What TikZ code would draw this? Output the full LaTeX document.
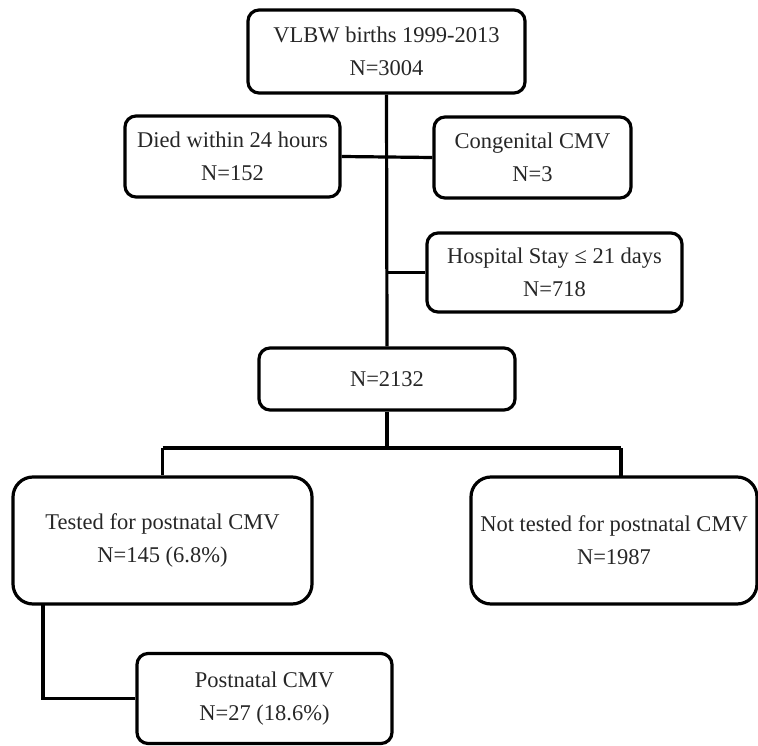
\documentclass[tikz,border=0pt]{standalone}
\usepackage{fontspec}
\setmainfont{Liberation Serif}
\begin{document}
\begin{tikzpicture}[x=1pt,y=-1pt,
  box/.style={draw=black,line width=3.2pt,rounded corners=11pt,align=center,
    inner sep=0pt,text=black!85,font=\fontsize{22.5}{33}\selectfont},
  bigbox/.style={box,rounded corners=20pt},
  link/.style={draw=black,line width=3.2pt}]
\useasboundingbox (0,0) rectangle (758,746);
\node[box,minimum width=277pt,minimum height=83pt] (vlbw) at (386.5,51.5) {VLBW births 1999-2013\\N=3004};
\node[box,minimum width=215pt,minimum height=81pt] (died) at (232.5,156.5) {Died within 24 hours\\N=152};
\node[box,minimum width=197pt,minimum height=81pt] (cong) at (532.5,157.5) {Congenital CMV\\N=3};
\node[box,minimum width=255pt,minimum height=79pt] (hosp) at (554.5,272.5) {Hospital Stay ≤ 21 days\\N=718};
\node[box,minimum width=256pt,minimum height=62pt] (n2132) at (387,379) {N=2132};
\node[bigbox,minimum width=299pt,minimum height=127pt] (tested) at (162.5,540.5) {Tested for postnatal CMV\\N=145 (6.8\%)};
\node[bigbox,minimum width=286pt,minimum height=127pt] (nottested) at (614,540.5) {Not tested for postnatal CMV\\N=1987};
\node[box,minimum width=255pt,minimum height=90pt] (post) at (264.5,698.5) {Postnatal CMV\\N=27 (18.6\%)};
\coordinate (split) at (387,448);
\coordinate (hj) at (387,272.5);
\coordinate (corner) at (43,698.5);
\draw[link] (vlbw.south) -- (n2132.north);
\draw[link] (died.east) -- (cong.west);
\draw[link] (hj) -- (hosp.west);
\draw[link] (n2132.south) -- (split);
\draw[link] (162.5,448) -- (621,448);
\draw[link] (162.5,448) -- (tested.north);
\draw[link] (621,448) -- (621,477);
\draw[link] (43,604) -- (corner) -- (post.west);
\end{tikzpicture}
\end{document}
